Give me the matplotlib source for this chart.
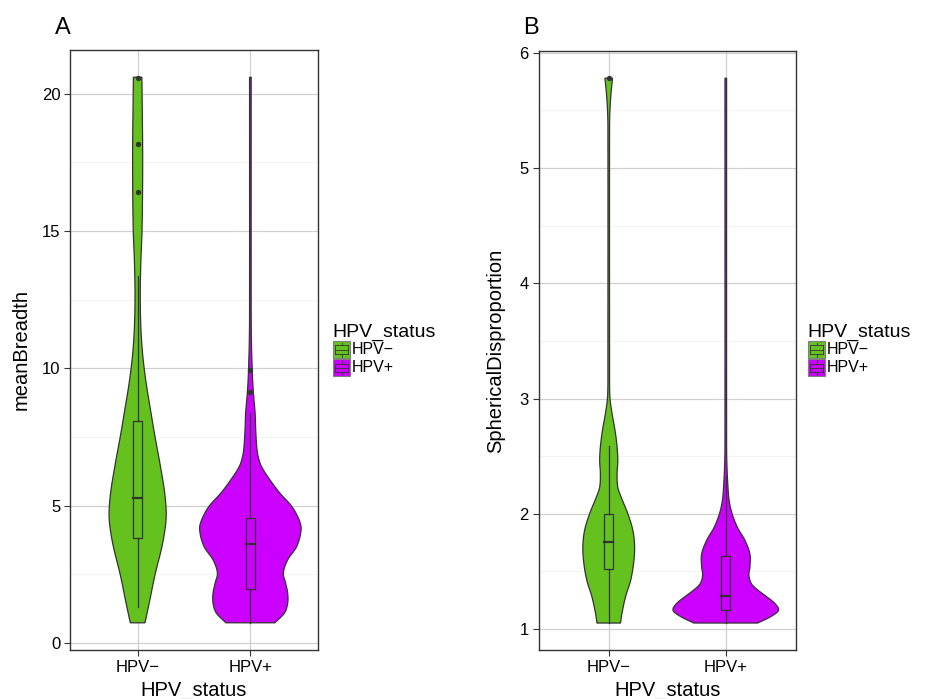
import matplotlib
matplotlib.use("Agg")
import matplotlib.pyplot as plt
import numpy as np
from matplotlib.patches import Rectangle
from matplotlib.lines import Line2D

plt.rcParams['font.family'] = ['Liberation Sans', 'DejaVu Sans']

groups = ["HPV\u2212", "HPV+"]
colors = ["#64c11e", "#cc00ff"]

# violin outlines: y values and relative half widths
a_neg_y = [0.74, 1.5, 2.5, 3.5, 4.3, 4.8, 5.5, 6.5, 7.5, 8.5, 9.5, 10.5,
           11.5, 12.7, 13.9, 15.1, 17.6, 20.0, 20.6]
a_neg_d = [7.3, 11.7, 17.3, 24.0, 27.7, 28.3, 26.7, 22.3, 17.3, 12.7, 8.3,
           5.0, 3.2, 2.6, 3.2, 4.4, 5.0, 4.4, 4.2]
a_pos_y = [0.74, 1.09, 1.45, 1.82, 2.18, 2.55, 3.03, 3.52, 4.13, 4.49, 4.98,
           5.46, 5.95, 6.43, 6.8, 7.16, 7.77, 8.38, 8.98, 9.59, 10.0, 10.86,
           12.0, 20.6]
a_pos_d = [24.3, 33.7, 37.0, 37.0, 35.0, 32.7, 37.0, 46.0, 50.3, 48.3, 41.0,
           29.3, 19.3, 11.0, 7.7, 6.3, 5.3, 4.7, 3.3, 2.2, 1.8, 1.1, 0.8, 0.8]

b_neg_y = [1.052, 1.13, 1.28, 1.42, 1.57, 1.71, 1.855, 2.0, 2.145, 2.23,
           2.35, 2.46, 2.58, 2.72, 2.87, 2.98, 3.07, 3.3, 5.35, 5.5, 5.65, 5.78]
b_neg_d = [11.7, 13.0, 16.7, 21.7, 24.7, 25.7, 24.0, 19.0, 12.3, 9.0, 8.3,
           9.0, 8.3, 6.3, 3.3, 1.5, 0.9, 0.8, 0.8, 1.2, 2.3, 3.8]
b_pos_y = [1.052, 1.104, 1.16, 1.22, 1.28, 1.335, 1.39, 1.465, 1.54, 1.65,
           1.77, 1.88, 2.0, 2.12, 2.29, 2.46, 2.6, 5.78]
b_pos_d = [31.7, 44.0, 52.3, 49.0, 40.7, 32.3, 25.7, 23.0, 24.0, 24.0, 19.0,
           11.7, 6.3, 3.3, 1.8, 1.0, 0.8, 0.8]

# box stats: whisker low, q1, median, q3, whisker high
a_box = [[1.3, 3.81, 5.28, 8.1, 13.35], [0.74, 1.97, 3.6, 4.55, 8.38]]
a_out = [[16.42, 18.17, 20.58], [9.14, 9.93]]
b_box = [[1.052, 1.52, 1.755, 2.0, 2.59], [1.052, 1.162, 1.29, 1.633, 2.33]]
b_out = [[5.78], []]

W, H = 925, 699
fig = plt.figure(figsize=(W / 100, H / 100), dpi=100)


def fx(px):
    return px / W


def fy(py):
    return 1 - py / H


def smooth(yv, dv, n=800):
    # cubic hermite through the read points, just to round the outline
    yv = np.asarray(yv, float)
    dv = np.asarray(dv, float)
    m = np.zeros_like(dv)
    m[1:-1] = (dv[2:] - dv[:-2]) / (yv[2:] - yv[:-2])
    m[0] = (dv[1] - dv[0]) / (yv[1] - yv[0])
    m[-1] = (dv[-1] - dv[-2]) / (yv[-1] - yv[-2])
    yy = np.linspace(yv[0], yv[-1], n)
    k = np.clip(np.searchsorted(yv, yy) - 1, 0, len(yv) - 2)
    h = yv[k + 1] - yv[k]
    t = (yy - yv[k]) / h
    h00 = 2 * t**3 - 3 * t**2 + 1
    h10 = t**3 - 2 * t**2 + t
    h01 = -2 * t**3 + 3 * t**2
    h11 = t**3 - t**2
    dd = h00 * dv[k] + h10 * h * m[k] + h01 * dv[k + 1] + h11 * h * m[k + 1]
    return yy, np.maximum(dd, 0.6)


def draw_panel(rect, profiles, boxes, outs, yticks, ylim, ylabel, letter,
               letter_x, ylab_x, leg_x):
    ax = fig.add_axes([fx(rect[0]), fy(rect[3]), fx(rect[2] - rect[0]),
                       (rect[3] - rect[1]) / H])
    dmax = max(max(d) for _, d in profiles)
    for i, (yv, dv) in enumerate(profiles):
        c = i + 1
        yy, dd = smooth(yv, dv)
        ww = dd / dmax * 0.45
        ax.fill(np.concatenate([c - ww, (c + ww)[::-1]]),
                np.concatenate([yy, yy[::-1]]),
                facecolor=colors[i], edgecolor="#333333", lw=0.9, zorder=3)
        lo, q1, med, q3, hi = boxes[i]
        bw = 0.04
        ax.plot([c, c], [lo, q1], color="#333333", lw=0.9, zorder=4)
        ax.plot([c, c], [q3, hi], color="#333333", lw=0.9, zorder=4)
        ax.add_patch(Rectangle((c - bw, q1), 2 * bw, q3 - q1, fill=False,
                               edgecolor="#333333", lw=0.9, zorder=4))
        ax.plot([c - bw, c + bw], [med, med], color="#333333", lw=1.6,
                zorder=4)
        if outs[i]:
            ax.scatter([c] * len(outs[i]), outs[i], s=15, color="#333333",
                       zorder=5, lw=0)
    ax.set_xticks([1, 2])
    ax.set_xticklabels(groups, fontsize=12)
    ax.set_yticks(yticks)
    ax.set_yticklabels([str(t) for t in yticks], fontsize=12)
    step = yticks[1] - yticks[0]
    ax.set_yticks(np.arange(yticks[0] - step / 2, ylim[1], step), minor=True)
    ax.set_xticks([], minor=True)
    ax.set_xlim(0.4, 2.6)
    ax.set_ylim(*ylim)
    ax.grid(True, which="major", color="#d0d0d0", lw=0.9, zorder=0)
    ax.grid(True, which="minor", axis="y", color="#f2f2f2", lw=0.6, zorder=0)
    ax.set_axisbelow(True)
    ax.tick_params(which="major", length=4, width=0.8, color="#333333",
                   labelcolor="black", pad=3)
    ax.tick_params(which="minor", length=0)
    for s in ax.spines.values():
        s.set_color("#333333")
        s.set_linewidth(1.0)
    cx = (rect[0] + rect[2]) / 2
    fig.text(fx(cx), fy(696), "HPV_status", fontsize=14.5, ha="center",
             va="baseline")
    fig.text(fx(ylab_x), fy((rect[1] + rect[3]) / 2), ylabel, fontsize=14.5,
             rotation=90, ha="center", va="center")
    fig.text(fx(letter_x), fy(34), letter, fontsize=17, ha="left",
             va="baseline")
    # legend
    fig.text(fx(leg_x), fy(337), "HPV_status", fontsize=14, ha="left",
             va="baseline")
    for i, g in enumerate(groups):
        top = 341 + 18 * i
        kx, ky, kw = leg_x + 0.5, top, 17
        fig.add_artist(Rectangle((fx(kx), fy(ky + kw)), kw / W, kw / H,
                                 transform=fig.transFigure,
                                 facecolor=colors[i], edgecolor="#7f7f7f",
                                 lw=0.8))
        xl, xr = fx(kx + 2), fx(kx + kw - 2)
        ym = ky + kw / 2
        for yy in (ky + 4.5, ym, ky + kw - 4.5):
            fig.add_artist(Line2D([xl, xr], [fy(yy), fy(yy)],
                                  transform=fig.transFigure,
                                  color="#333333", lw=0.6))
        for xx in (kx + 2, kx + kw - 2):
            fig.add_artist(Line2D([fx(xx), fx(xx)], [fy(ky + 4.5),
                                                     fy(ky + kw - 4.5)],
                                  transform=fig.transFigure,
                                  color="#333333", lw=0.6))
        fig.add_artist(Line2D([fx(kx + kw / 2)] * 2, [fy(ky + 1.5),
                                                      fy(ky + 4.5)],
                              transform=fig.transFigure, color="#333333",
                              lw=0.6))
        fig.add_artist(Line2D([fx(kx + kw / 2)] * 2, [fy(ky + kw - 4.5),
                                                      fy(ky + kw - 1.5)],
                              transform=fig.transFigure, color="#333333",
                              lw=0.6))
        fig.text(fx(kx + kw + 2), fy(ym), g, fontsize=11.5, ha="left",
                 va="center")
    return ax


draw_panel((70, 50, 318, 650), [(a_neg_y, a_neg_d), (a_pos_y, a_pos_d)],
           a_box, a_out, [0, 5, 10, 15, 20], (-0.25, 21.59), "meanBreadth",
           "A", 55, 21, 332.5)
draw_panel((538.5, 51, 796, 650), [(b_neg_y, b_neg_d), (b_pos_y, b_pos_d)],
           b_box, b_out, [1, 2, 3, 4, 5, 6], (0.818, 6.016),
           "SphericalDisproportion", "B", 523, 496, 807.5)

fig.savefig("out.png", dpi=100)
